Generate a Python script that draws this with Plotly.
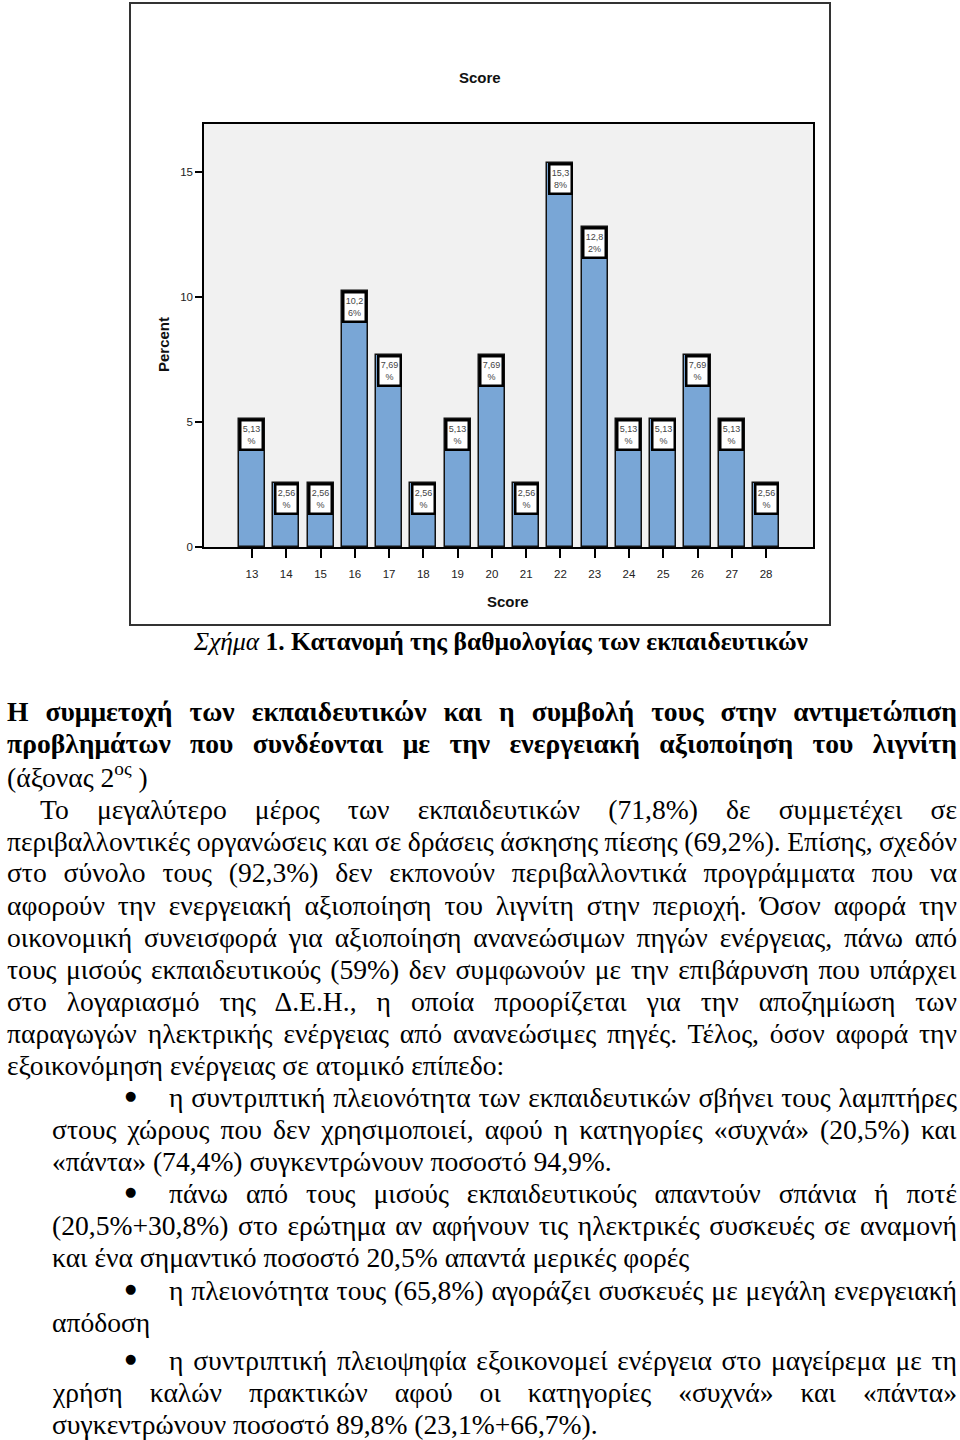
import plotly.graph_objects as go

# ---------------- data ----------------
scores = [13, 14, 15, 16, 17, 18, 19, 20, 21, 22, 23, 24, 25, 26, 27, 28]
percents = [5.13, 2.56, 2.56, 10.26, 7.69, 2.56, 5.13, 7.69, 2.56, 15.38, 12.82, 5.13, 5.13, 7.69, 5.13, 2.56]
y_ticks = [0, 5, 10, 15]
chart_title = "Score"
x_title = "Score"
y_title = "Percent"

caption = "<i>Σχήμα</i> <b>1. Κατανομή της βαθμολογίας των εκπαιδευτικών</b>"

heading_lines = [
    "Η συμμετοχή των εκπαιδευτικών και η συμβολή τους στην αντιμετώπιση",
    "προβλημάτων που συνδέονται με την ενεργειακή αξιοποίηση του λιγνίτη",
]
axis_line = "(άξονας 2<sup>ος</sup> )"

paragraph_lines = [
    "Το μεγαλύτερο μέρος των εκπαιδευτικών (71,8%) δε συμμετέχει σε",
    "περιβαλλοντικές οργανώσεις και σε δράσεις άσκησης πίεσης (69,2%). Επίσης, σχεδόν",
    "στο σύνολο τους (92,3%) δεν εκπονούν περιβαλλοντικά προγράμματα που να",
    "αφορούν την ενεργειακή αξιοποίηση του λιγνίτη στην περιοχή. Όσον αφορά την",
    "οικονομική συνεισφορά για αξιοποίηση ανανεώσιμων πηγών ενέργειας, πάνω από",
    "τους μισούς εκπαιδευτικούς (59%) δεν συμφωνούν με την επιβάρυνση που υπάρχει",
    "στο λογαριασμό της Δ.Ε.Η., η οποία προορίζεται για την αποζημίωση των",
    "παραγωγών ηλεκτρικής ενέργειας από ανανεώσιμες πηγές. Τέλος, όσον αφορά την",
    "εξοικονόμηση ενέργειας σε ατομικό επίπεδο:",
]

bullet_items = [
    ["η συντριπτική πλειονότητα των εκπαιδευτικών σβήνει τους λαμπτήρες",
     "στους χώρους που δεν χρησιμοποιεί, αφού η κατηγορίες «συχνά» (20,5%) και",
     "«πάντα» (74,4%) συγκεντρώνουν ποσοστό 94,9%."],
    ["πάνω από τους μισούς εκπαιδευτικούς απαντούν σπάνια ή ποτέ",
     "(20,5%+30,8%) στο ερώτημα αν αφήνουν τις ηλεκτρικές συσκευές σε αναμονή",
     "και ένα σημαντικό ποσοστό 20,5% απαντά μερικές φορές"],
    ["η πλειονότητα τους (65,8%) αγοράζει συσκευές με μεγάλη ενεργειακή",
     "απόδοση"],
    ["η συντριπτική πλειοψηφία εξοικονομεί ενέργεια στο μαγείρεμα με τη",
     "χρήση καλών πρακτικών αφού οι κατηγορίες «συχνά» και «πάντα»",
     "συγκεντρώνουν ποσοστό 89,8% (23,1%+66,7%)."],
]

# ---------------- layout helpers ----------------
W, H = 960, 1440
def px(x):
    return x / W
def py(y):
    return 1 - y / H

SERIF = "Liberation Serif, Times New Roman, serif"
SANS = "Liberation Sans, Arial, sans-serif"
TXT = 27.6
RIGHT = 955

def label_text(v):
    s = f"{v:.2f}".replace(".", ",") + "%"
    return s[:4] + "<br>" + s[4:]

fig = go.Figure()
fig.add_trace(go.Bar(
    x=scores, y=percents, width=0.76,
    marker=dict(color="#79a6d6", line=dict(color="#111111", width=1.5)),
    hoverinfo="x+y", showlegend=False,
))

anns = []
justify = []  # (annotation index, target width)

# value label boxes on top of bars
for s, v in zip(scores, percents):
    anns.append(dict(
        x=s, y=v, xref="x", yref="y", xanchor="center", yanchor="top",
        text=label_text(v), showarrow=False,
        font=dict(family=SANS, size=9, color="#444444"),
        bgcolor="white", bordercolor="#000000", borderwidth=2.5, borderpad=0,
        width=20, height=27, align="center",
    ))

def centered(text, x, y, font, angle=0):
    anns.append(dict(x=px(x), y=py(y), xref="paper", yref="paper", text=text,
                     xanchor="center", yanchor="middle", textangle=angle,
                     showarrow=False, font=font))

# chart titles
centered(f"<b>{chart_title}</b>", 480, 77, dict(family=SANS, size=15, color="#111"))
centered(f"<b>{x_title}</b>", 508, 601, dict(family=SANS, size=15, color="#111"))
centered(f"<b>{y_title}</b>", 163, 345, dict(family=SANS, size=15, color="#111"), angle=-90)

# caption
centered(caption, 501, 641, dict(family=SERIF, size=25.5, color="#000"))

def add_line(text, y, x_left, just, bold=False):
    t = f"<b>{text}</b>" if bold else text
    anns.append(dict(x=px(x_left), y=py(y), xref="paper", yref="paper", text=t,
                     xanchor="left", yanchor="middle", showarrow=False,
                     font=dict(family=SERIF, size=TXT, color="#000")))
    if just:
        justify.append([len(anns) - 1, RIGHT - x_left])

# heading
add_line(heading_lines[0], 711, 5, True, bold=True)
add_line(heading_lines[1], 743, 5, True, bold=True)
add_line(axis_line, 775, 5, False)

# paragraph
pys = [809, 841, 873, 905, 937, 969, 1001, 1033, 1065]
for i, (t, y) in enumerate(zip(paragraph_lines, pys)):
    xl = 38 if i == 0 else 5
    add_line(t, y, xl, i < len(paragraph_lines) - 1)

# bullets
bullet_y = [[1097, 1129, 1161], [1193, 1225, 1257], [1290, 1322], [1360, 1392, 1424]]
for item, ys in zip(bullet_items, bullet_y):
    centered("●", 130, ys[0] - 2, dict(family="DejaVu Sans", size=13, color="#000"))
    for j, (t, y) in enumerate(zip(item, ys)):
        xl = 167 if j == 0 else 50
        add_line(t, y, xl, j < len(item) - 1)

shapes = [
    dict(type="rect", xref="paper", yref="paper", x0=px(130), x1=px(830), y0=py(625), y1=py(3),
         line=dict(color="#333333", width=2), fillcolor="rgba(0,0,0,0)", layer="below"),
]

fig.update_layout(
    width=W, height=H,
    margin=dict(l=0, r=0, t=0, b=0, autoexpand=False),
    paper_bgcolor="white", plot_bgcolor="#f1f1f1",
    bargap=0,
    xaxis=dict(domain=[px(204), px(813)], range=[11.6, 29.37], tickvals=scores,
               ticks="outside", ticklen=9, tickwidth=1.5, tickcolor="#000",
               showline=True, linecolor="#000", linewidth=1.5, mirror=True,
               showgrid=False, zeroline=False, ticklabelstandoff=6,
               tickfont=dict(family=SANS, size=11.5, color="#222")),
    yaxis=dict(domain=[py(547), py(124)], range=[0, 16.92], tickvals=y_ticks,
               ticks="outside", ticklen=7, tickwidth=1.5, tickcolor="#000",
               showline=True, linecolor="#000", linewidth=1.5, mirror=True,
               showgrid=False, zeroline=False,
               tickfont=dict(family=SANS, size=11.5, color="#222")),
    annotations=anns,
    shapes=shapes,
)

post = """
document.body.style.margin = '0';
document.body.style.padding = '0';
document.body.style.overflow = 'hidden';
var gd = document.getElementById('{plot_id}');
var J = %s;
J.forEach(function(p){
  var g = gd.querySelector('.annotation[data-index="' + p[0] + '"]');
  if (!g) return;
  var t = g.querySelector('text.annotation-text');
  if (!t) return;
  var b1 = t.getBBox();
  var n = (t.textContent.match(/ /g) || []).length;
  if (n === 0) return;
  var ws = (p[1] - b1.width) / n;
  t.style.wordSpacing = ws + 'px';
  var b2 = t.getBBox();
  var tr = t.getAttribute('transform') || '';
  t.setAttribute('transform', tr + ' translate(' + (b1.x - b2.x) + ',0)');
});
""" % (str(justify))

fig.write_html("out.html", post_script=post, config={"displayModeBar": False})
